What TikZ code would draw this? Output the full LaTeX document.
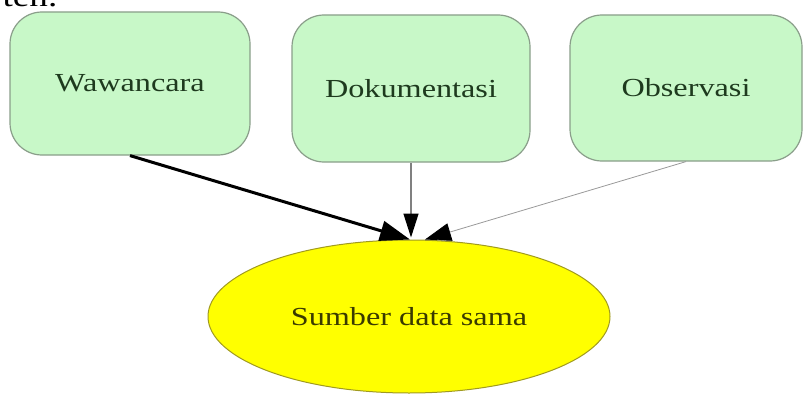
\documentclass[tikz,border=0pt]{standalone}
\usepackage{fontspec}
\setmainfont{Liberation Serif}[FakeStretch=1.24]
\usetikzlibrary{calc,arrows.meta,shapes.geometric}
\definecolor{boxfill}{HTML}{C8F8C8}
\definecolor{boxline}{HTML}{8A9E8A}
\definecolor{boxtext}{HTML}{1E3A1E}
\definecolor{ellline}{HTML}{A09A20}
\definecolor{ellfill}{HTML}{FFFF00}
\definecolor{elltext}{HTML}{3A3A00}

\begin{document}
\begin{tikzpicture}[x=1pt,y=-1pt]
                      \tikzstyle{source}=[rectangle,rounded corners=32pt,draw=boxline,line width=1.2pt,fill=boxfill,text=boxtext,font=\fontsize{26}{28}\selectfont]
                      \tikzstyle{target}=[ellipse,draw=ellline,line width=1pt,fill=ellfill,text=elltext,inner sep=0pt,font=\fontsize{26}{28}\selectfont]
                      \tikzstyle{tip}=[-{Triangle[length=30pt,width=20pt]}]
                      \useasboundingbox (0,0) rectangle (803,396);
                      \node at (30,-2) {\fontsize{30}{32}\selectfont ten.};
                      \node[source, minimum width=240pt, minimum height=143pt] (waw) at (130,83.5) {Wawancara};
                      \node[source, minimum width=238pt, minimum height=147pt] (dok) at (411,88.5) {Dokumentasi};
                      \node[source, minimum width=232pt, minimum height=146pt] (obs) at (686,88) {Observasi};
                      \node[target, minimum width=402pt, minimum height=153pt] (sum) at (409,316.5) {Sumber data sama};
                      \coordinate (in1) at ($(sum.north)+(1,0)$);
                      \coordinate (in2) at ($(sum.north)+(2,-2)$);
                      \coordinate (in3) at ($(sum.north)+(16,0)$);
                      \draw[tip, line width=3pt, black] (waw.south) -- (in1);
                      \draw[line width=1.4pt, gray, -{Triangle[length=24pt,width=15pt,fill=black,color=black]}] (dok.south) -- (in2);
                      \draw[line width=0.8pt, black!40, -{Triangle[length=26pt,width=18pt,fill=black,color=black]}] (obs.south) -- (in3);
                  \end{tikzpicture}
\end{document}
